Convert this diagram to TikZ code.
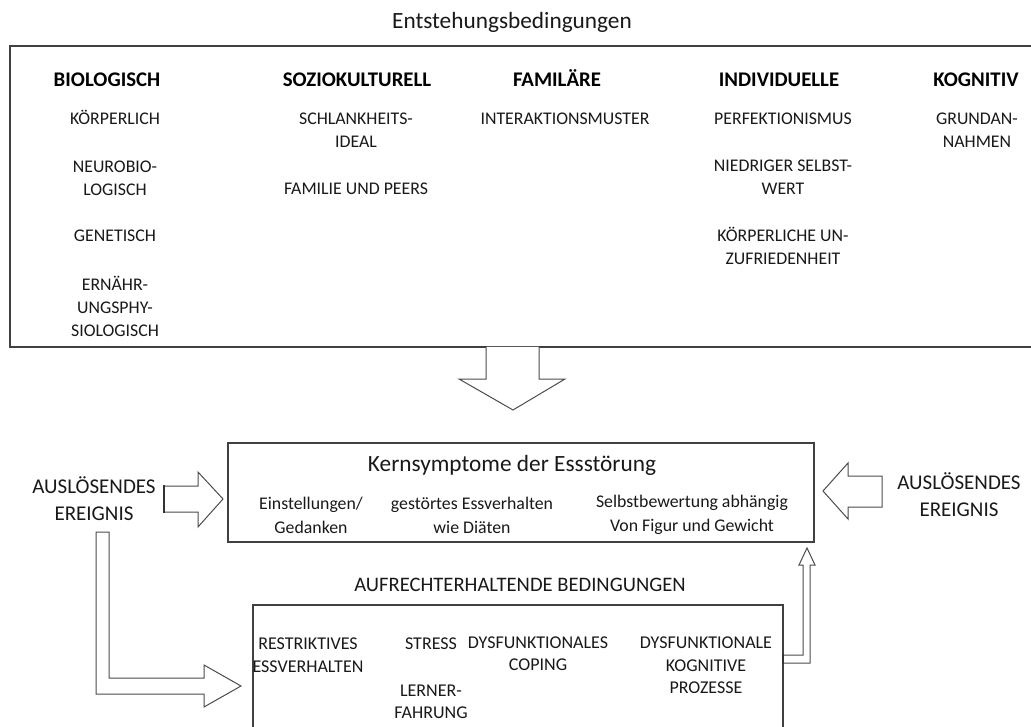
\documentclass[tikz,border=0pt]{standalone}
\usepackage{fontspec}
\setmainfont{Carlito}
\usetikzlibrary{calc}
\tikzset{
  item/.style={font=\fontsize{17.8}{23}\selectfont, align=center, inner sep=0pt, text=black!90},
  headlbl/.style={font=\bfseries\fontsize{20.8}{25}\selectfont, inner sep=0pt, text=black, anchor=base},
  bigtitle/.style={font=\fontsize{23.3}{28}\selectfont, inner sep=0pt, text=black!90},
  midtitle/.style={font=\fontsize{20.6}{26}\selectfont, inner sep=0pt, text=black!90},
  trigger/.style={font=\fontsize{21}{27}\selectfont, align=center, inner sep=0pt, text=black!90},
  framebox/.style={draw=black!75, line width=1.2pt, inner sep=0pt, outer sep=0pt, anchor=north west},
  blockarrow/.style={draw=black!70, line width=1pt, fill=white, line join=miter}
}
\begin{document}
\begin{tikzpicture}[x=1pt,y=-1pt]
\useasboundingbox (0,0) rectangle (1031,727);
\fill[white] (0,0) rectangle (1031,727);
\clip (0,0) rectangle (1031,727);

% ---------- Entstehungsbedingungen ----------
\node[bigtitle] (enttitle) at (512,22) {Entstehungsbedingungen};
\node[framebox, minimum width=1030pt, minimum height=301pt] (entbox) at (10,46) {};

\node[headlbl] (bio) at (107,86.7) {BIOLOGISCH};
\node[headlbl] (sozio) at (357,86.7) {SOZIOKULTURELL};
\node[headlbl] (fam) at (557,86.7) {FAMILÄRE};
\node[headlbl] (indiv) at (779,86.7) {INDIVIDUELLE};
\node[headlbl] (kogn) at (976,86.7) {KOGNITIV};

\node[item, anchor=base] (koerp) at (115,124.7) {KÖRPERLICH};
\node[item] (neuro) at (115,178) {NEUROBIO-\\LOGISCH};
\node[item] (genet) at (115,236) {GENETISCH};
\node[item] (ernaehr) at (115,306) {ERNÄHR-\\UNGSPHY-\\SIOLOGISCH};

\node[item] (schlank) at (356,130.5) {SCHLANKHEITS-\\IDEAL};
\node[item] (peers) at (356,189) {FAMILIE UND PEERS};

\node[item] (interakt) at (565,119) {INTERAKTIONSMUSTER};

\node[item] (perf) at (783,119) {PERFEKTIONISMUS};
\node[item] (selbst) at (783,177) {NIEDRIGER SELBST-\\WERT};
\node[item] (unzuf) at (783,246) {KÖRPERLICHE UN-\\ZUFRIEDENHEIT};

\node[item] (grund) at (977,130.5) {GRUNDAN-\\NAHMEN};

% ---------- Kernsymptome ----------
\node[framebox, minimum width=586pt, minimum height=99pt] (kern) at (228,443) {};
\node[bigtitle] (kerntitle) at (512,465) {Kernsymptome der Essstörung};
\node[item, font=\fontsize{17.8}{24}\selectfont] (einst) at (311,515) {Einstellungen/\\Gedanken};
\node[item, font=\fontsize{17.8}{24}\selectfont] (gestoert) at (472,515) {gestörtes Essverhalten\\wie Diäten};
\node[item, font=\fontsize{17.8}{24}\selectfont] (selbstbew) at (692,515) {Selbstbewertung abhängig\\Von Figur und Gewicht};

% ---------- Auslösende Ereignisse ----------
\node[trigger] (ausL) at (94,498.5) {AUSLÖSENDES\\EREIGNIS};
\node[trigger] (ausR) at (959,495) {AUSLÖSENDES\\EREIGNIS};

% ---------- Aufrechterhaltende Bedingungen ----------
\node[midtitle] (auftitle) at (520,585) {AUFRECHTERHALTENDE BEDINGUNGEN};
\node[framebox, minimum width=530pt, minimum height=150pt] (aufbox) at (253,605) {};
\node[item, font=\fontsize{18}{23}\selectfont] (restr) at (308,655.5) {RESTRIKTIVES\\ESSVERHALTEN};
\node[item, font=\fontsize{18}{23}\selectfont] (stress) at (431,644) {STRESS};
\node[item, font=\fontsize{18}{22}\selectfont] (lern) at (431,702) {LERNER-\\FAHRUNG};
\node[item, font=\fontsize{18}{22}\selectfont] (coping) at (538,654) {DYSFUNKTIONALES\\COPING};
\node[item, font=\fontsize{18}{22.5}\selectfont] (kogproz) at (706,665.5) {DYSFUNKTIONALE\\KOGNITIVE\\PROZESSE};

% ---------- Block arrows ----------
% Entstehungsbedingungen -> Kernsymptome
\draw[blockarrow] (486,347) -- (486,379) -- (459,379) -- (513,410) -- (565,379) -- (539,379) -- (539,347);
% left trigger -> Kernsymptome
\draw[blockarrow] (164,486) -- (198,486) -- (198,472) -- (223,499) -- (198,527) -- (198,512) -- (164,512) -- cycle;
\draw[draw=black!80, line width=2.4pt] (164,485) -- (164,513);
% right trigger -> Kernsymptome
\draw[blockarrow] (882,476) -- (848,476) -- (848,463) -- (823,491) -- (848,519) -- (848,507) -- (882,507) -- cycle;
% left trigger -> Aufrechterhaltende Bedingungen
\draw[blockarrow] (96,532) -- (109,532) -- (109,678) -- (204,678) -- (204,665) -- (241,686) -- (204,707) -- (204,694) -- (96,694) -- cycle;
% Aufrechterhaltende Bedingungen -> Kernsymptome
\draw[blockarrow] (783,655) -- (803,655) -- (803,565) -- (799,565) -- (807,548) -- (815,565) -- (810,565) -- (810,663) -- (783,663);
\draw[draw=black!80, line width=2pt] (783,654) -- (783,664);
\end{tikzpicture}
\end{document}
